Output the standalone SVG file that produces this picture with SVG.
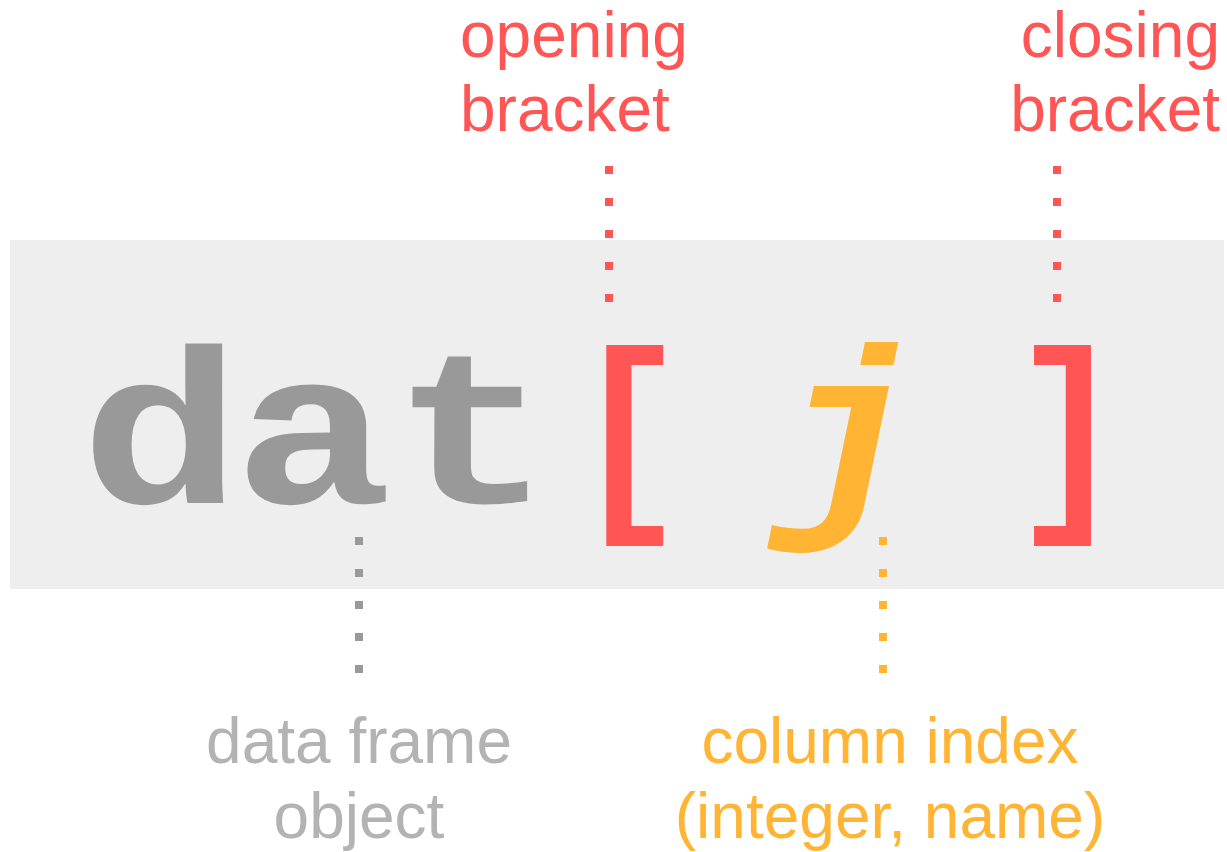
<svg xmlns="http://www.w3.org/2000/svg" width="1227" height="852" viewBox="0 0 1227 852">
<style>
.lbl{font-family:"Liberation Sans",Arial,sans-serif;font-size:64px}
.code{font-family:"Liberation Mono","Courier New",monospace;font-weight:bold;font-size:220px;text-anchor:middle}
.red{fill:#FF5555}
.orange{fill:#FFB533}
.gray{fill:#999999}
.lgray{fill:#B3B3B3}
.dot{stroke-width:8;stroke-dasharray:8 24;fill:none}
</style>
<rect x="10" y="240" width="1214" height="349" fill="#EEEEEE"/>
<g id="connectors">
<line class="dot" x1="609" y1="166" x2="609" y2="302" stroke="#FF5555"/>
<line class="dot" x1="1057" y1="166" x2="1057" y2="302" stroke="#FF5555"/>
<line class="dot" x1="359" y1="537" x2="359" y2="673" stroke="#999999"/>
<line class="dot" x1="883" y1="537" x2="883" y2="673" stroke="#FFB533"/>
</g>
<g id="code">
<text class="code gray" transform="translate(161,503) scale(1.22,1)">d</text>
<text class="code gray" transform="translate(313,503) scale(1.2,1)">a</text>
<text class="code gray" transform="translate(472,503) scale(1.22,1)">t</text>
<text class="code red" transform="translate(629,501) scale(0.88,0.98)">[</text>
<text class="code orange" font-style="italic" transform="translate(847,506) scale(1.1,1.03)">j</text>
<text class="code red" transform="translate(1068,501) scale(0.88,0.98)">]</text>
</g>
<g id="opening-bracket">
<text class="lbl red" x="460" y="57">opening</text>
<text class="lbl red" x="460" y="131">bracket</text>
</g>
<g id="closing-bracket">
<text class="lbl red" x="1220" y="57" text-anchor="end">closing</text>
<text class="lbl red" x="1220" y="131" text-anchor="end">bracket</text>
</g>
<g id="data-frame-object">
<text class="lbl lgray" x="359" y="763" text-anchor="middle">data frame</text>
<text class="lbl lgray" x="359" y="838" text-anchor="middle">object</text>
</g>
<g id="column-index">
<text class="lbl orange" x="890" y="763" text-anchor="middle">column index</text>
<text class="lbl orange" x="890" y="838" text-anchor="middle">(integer, name)</text>
</g>
</svg>
